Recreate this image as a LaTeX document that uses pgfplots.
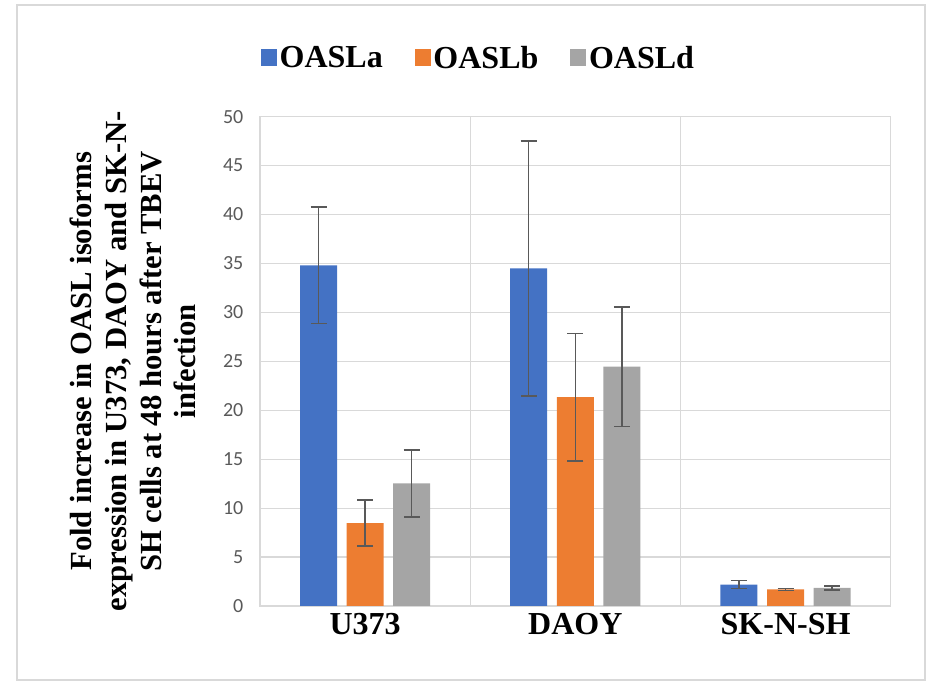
\documentclass[border=0pt]{standalone}
\usepackage{pgfplots}
\pgfplotsset{compat=1.18}
\usepackage{pgfplotstable}
\usepackage{fontspec}
\setmainfont{Liberation Serif}
\newfontfamily\carlito{Carlito}
\definecolor{cA}{HTML}{4472C4}
\definecolor{cB}{HTML}{ED7D31}
\definecolor{cD}{HTML}{A5A5A5}
\definecolor{gridc}{HTML}{D9D9D9}
\definecolor{tickc}{HTML}{595959}
\pgfplotstableread{
x a ea b eb d ed
0 34.8 5.95 8.47 2.35 12.52 3.42
1 34.5 13.03 21.33 6.5 24.46 6.1
2 2.18 0.41 1.70 0.10 1.84 0.19
}\datatab
\begin{document}
\begin{tikzpicture}
\useasboundingbox (-195pt,-58.5pt) rectangle (504pt,454.5pt);
\draw[gridc, line width=1.1pt] (-182.25pt,-55.5pt) rectangle (498.75pt,450.75pt);
\begin{axis}[
  at={(0pt,0pt)}, anchor=south west,
  scale only axis, width=473pt, height=367pt,
  ybar=7.2pt, bar width=27.75pt,
  xmin=-0.5, xmax=2.5, ymin=0, ymax=50,
  xtick={0,1,2}, xticklabels={U373,DAOY,SK-N-SH},
  minor xtick={0.5,1.5},
  ytick={0,5,...,50},
  major tick length=0pt, minor tick length=0pt,
  ymajorgrids, xminorgrids,
  grid style={draw=gridc, line width=0.9pt},
  minor grid style={draw=gridc, line width=0.9pt},
  axis line style={draw=gridc, line width=0.9pt},
  /pgf/number format/assume math mode=true,
  yticklabel style={font=\carlito\fontsize{15}{18}\selectfont, text=tickc, xshift=-9pt},
  xticklabel style={font=\fontsize{24}{28}\selectfont\bfseries, text=black, yshift=-2pt},
  ylabel={Fold increase in OASL isoforms\\expression in U373, DAOY and SK-N-\\SH cells at 48 hours after TBEV\\infection},
  ylabel style={at={(axis description cs:-0.201,0.5)}, anchor=center, rotate=0, align=center,
    font=\fontsize{23}{26}\selectfont\bfseries},
  legend columns=3,
  legend style={at={(axis description cs:0.347,1.12)}, anchor=center, draw=none, fill=none,
    font=\fontsize{24}{28}\selectfont\bfseries,
    /tikz/every even column/.append style={column sep=22pt},
    inner sep=0pt},
  legend image code/.code={\fill[#1,draw=none] (0pt,-6pt) rectangle (12pt,7pt);},
  error bars/y dir=both, error bars/y explicit,
  error bars/error bar style={draw=tickc, line width=1.1pt},
  error bars/error mark options={rotate=90, mark size=6pt, draw=tickc, line width=1.1pt},
]
\addplot[fill=cA, draw=none] table[x=x, y=a, y error=ea] {\datatab};
\addplot[fill=cB, draw=none] table[x=x, y=b, y error=eb] {\datatab};
\addplot[fill=cD, draw=none] table[x=x, y=d, y error=ed] {\datatab};
\legend{OASLa,OASLb,OASLd}
\end{axis}
\end{tikzpicture}
\end{document}
